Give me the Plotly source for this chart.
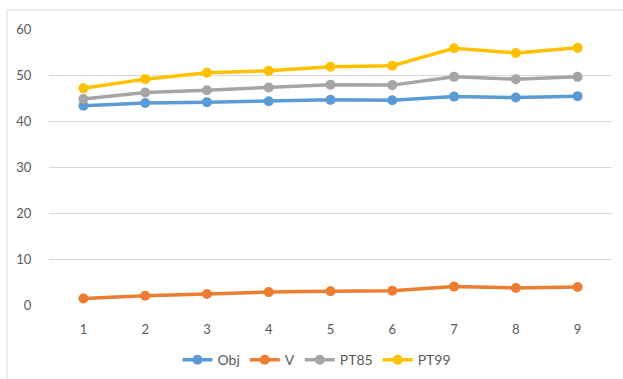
import plotly.graph_objects as go

categories = ["1", "2", "3", "4", "5", "6", "7", "8", "9"]
obj = [43.3, 43.9, 44.1, 44.3, 44.6, 44.5, 45.3, 45.1, 45.4]
v = [1.4, 2.0, 2.4, 2.8, 3.0, 3.1, 4.0, 3.7, 3.9]
pt85 = [44.8, 46.2, 46.7, 47.3, 47.9, 47.8, 49.6, 49.1, 49.6]
pt99 = [47.1, 49.1, 50.5, 50.9, 51.8, 52.0, 55.8, 54.8, 55.9]

series = [("Obj", obj, "#5B9BD5"), ("V", v, "#ED7D31"),
          ("PT85", pt85, "#A5A5A5"), ("PT99", pt99, "#FFC000")]

fig = go.Figure()
for name, vals, col in series:
    fig.add_trace(go.Scatter(x=categories, y=vals, name=name, mode="lines+markers",
                             line=dict(color=col, width=3.5),
                             marker=dict(color=col, size=10)))

fig.update_layout(
    width=623, height=379,
    margin=dict(l=49, r=11, t=29, b=74, autoexpand=False),
    paper_bgcolor="white", plot_bgcolor="white",
    font=dict(family="Lato, Open Sans, sans-serif", size=13, color="#595959"),
    showlegend=True,
    legend=dict(orientation="h", x=0.476, xanchor="center", y=-0.2, yanchor="middle",
                font=dict(size=14, color="#595959"), itemwidth=30),
    xaxis=dict(type="category", showgrid=False, zeroline=False, showline=False,
               automargin=False,
               ticks="outside", ticklen=12, tickcolor="rgba(0,0,0,0)"),
    yaxis=dict(range=[0, 60], dtick=10, showgrid=True, gridcolor="#D9D9D9", gridwidth=1,
               zeroline=False, showline=False, automargin=False,
               ticks="outside", ticklen=14, tickcolor="rgba(0,0,0,0)"),
    shapes=[dict(type="rect", xref="paper", yref="paper", x0=-0.0746, x1=1.1,
                 y0=-0.4, y1=1.0688, line=dict(color="#D9D9D9", width=1),
                 fillcolor="rgba(0,0,0,0)", layer="below")],
)

fig.write_html("out.html", config={"displayModeBar": False},
               post_script="document.body.style.margin='0px';")
